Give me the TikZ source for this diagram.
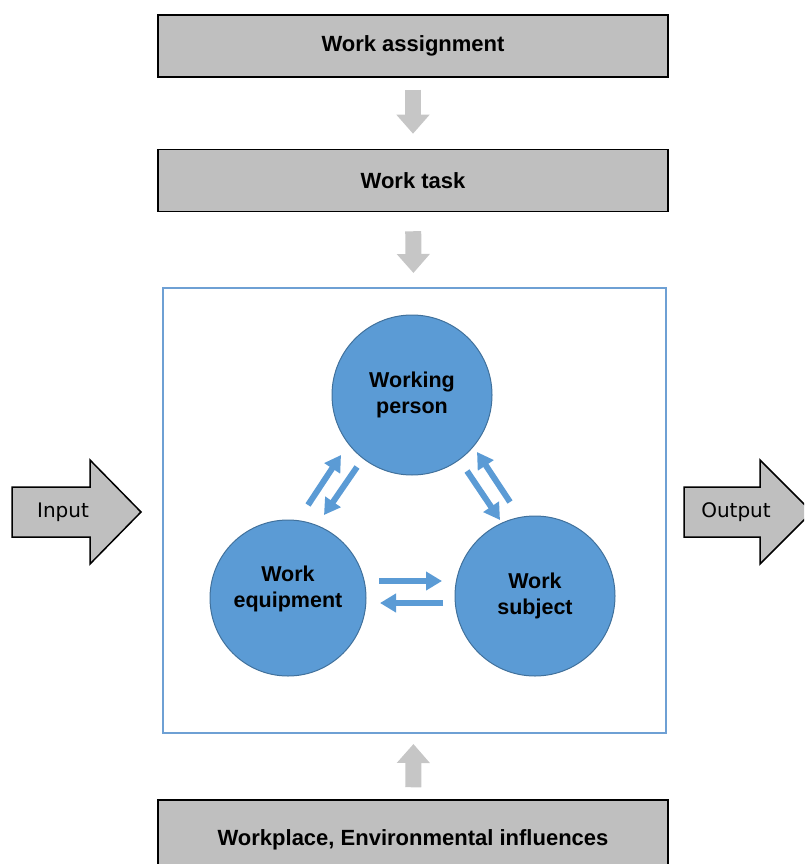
\documentclass[tikz,border=0pt]{standalone}
\usepackage{fontspec}
\setmainfont{Liberation Sans}
\newfontfamily\iofont{DejaVu Sans}
\usetikzlibrary{arrows.meta}
\definecolor{boxgray}{RGB}{191,191,191}
\definecolor{arrgray}{RGB}{198,198,198}
\definecolor{cblue}{RGB}{91,155,213}
\definecolor{cedge}{RGB}{65,113,156}
\definecolor{frameblue}{RGB}{110,160,212}
\tikzstyle{bx}=[draw=black,line width=1.5pt,fill=boxgray,minimum width=510pt,minimum height=62pt,font=\fontsize{22}{26}\selectfont\bfseries]
\tikzstyle{wc}=[shape=circle,draw=cedge,line width=1pt,fill=cblue,minimum size=160pt,align=center,font=\fontsize{21.5}{26}\selectfont\bfseries]
\tikzstyle{ga}=[draw=arrgray,line width=16pt,-{Triangle[length=19pt,width=32pt]}]
\tikzstyle{ba}=[draw=cblue,line width=6pt,-{Triangle[length=16pt,width=18pt]}]
\tikzstyle{io}=[draw=black,line width=1.5pt,fill=boxgray,line join=miter]
\tikzstyle{iot}=[font=\fontsize{20}{24}\selectfont\iofont]

\begin{document}
\begin{tikzpicture}[x=1pt,y=-1pt]
            \useasboundingbox (0,0) rectangle (804,864);
            \clip (0,0) rectangle (804,864);
            % boxes on top and bottom
            \node[bx] (assign) at (413,46) {Work assignment};
            \node[bx] (task) at (413,180.5) {Work task};
            \node[bx,minimum height=80pt] (env) at (413,840) {Workplace, Environmental influences};
            % work system frame
            \node[draw=frameblue,line width=2pt,minimum width=503pt,minimum height=445pt] (sys) at (414.5,510.5) {};
            \draw[ga,shorten <=12pt,shorten >=15pt] (assign) -- (task);
            \draw[ga,shorten <=19pt,shorten >=14pt] (task) -- (sys);
            \draw[ga,shorten <=12pt,shorten >=10pt] (env) -- (sys);
            % input and output
            \draw[io] (12,487) -- (90,487) -- (90,460) -- (141,512) -- (90,564) -- (90,537) -- (12,537) -- cycle;
            \draw[io] (684,487) -- (760,487) -- (760,460) -- (812,512) -- (760,564) -- (760,537) -- (684,537) -- cycle;
            \node[iot] (in) at (63,512) {Input};
            \node[iot] (out) at (736,512) {Output};
            % elements
            \node[wc] (person) at (412,395) {Working\\person};
            \node[wc,minimum size=156pt,label={[align=center,font=\fontsize{21.5}{26}\selectfont\bfseries,yshift=9pt]center:Work\\equipment}] (equip) at (288,598) {};
            \node[wc] (subj) at (535,596) {Work\\subject};
            \coordinate (e1) at (308,505);
            \coordinate (p1) at (341,455);
            \coordinate (p2) at (357,467);
            \coordinate (e2) at (324,515);
            \coordinate (p3) at (467,471);
            \coordinate (s1) at (500,520);
            \coordinate (s2) at (510,502);
            \coordinate (p4) at (477,452);
            \coordinate (e3) at (379,581);
            \coordinate (s3) at (442,581);
            \coordinate (s4) at (443,603);
            \coordinate (e4) at (380,603);
            \draw[ba] (e1) -- (p1);
            \draw[ba] (p2) -- (e2);
            \draw[ba] (p3) -- (s1);
            \draw[ba] (s2) -- (p4);
            \draw[ba] (e3) -- (s3);
            \draw[ba] (s4) -- (e4);
        \end{tikzpicture}
\end{document}
